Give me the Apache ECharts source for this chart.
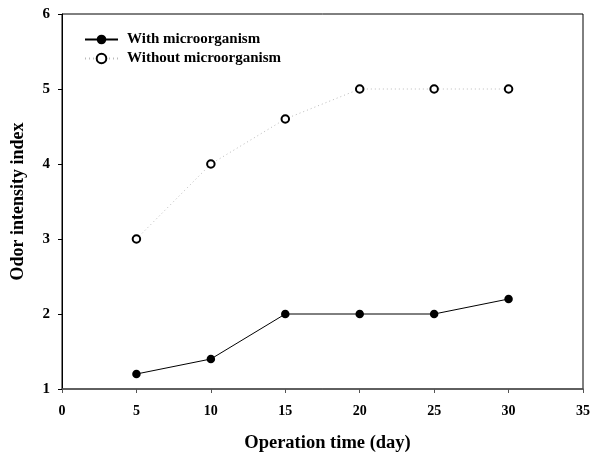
<!DOCTYPE html>
<html>
<head>
<meta charset="utf-8">
<script src="https://cdn.jsdelivr.net/npm/echarts@6/dist/echarts.min.js"></script>
<style>html,body{margin:0;padding:0;background:#fff;}#c{width:590px;height:454px;}</style>
</head>
<body>
<div id="c"></div>
<script>
const days = [5, 10, 15, 20, 25, 30];
const withMicro = [1.2, 1.4, 2.0, 2.0, 2.0, 2.2];
const withoutMicro = [3.0, 4.0, 4.6, 5.0, 5.0, 5.0];
const seriesNames = ['With microorganism', 'Without microorganism'];
const xTitle = 'Operation time (day)';
const yTitle = 'Odor intensity index';

const font = '"Liberation Serif", "Times New Roman", serif';
const chart = echarts.init(document.getElementById('c'));
chart.setOption({
  animation: false,
  backgroundColor: '#fff',
  grid: {left: 62, right: 7, top: 14, bottom: 65, show: true, borderColor: '#000', borderWidth: 1,
         containLabel: false, outerBoundsMode: 'none'},
  legend: {
    left: 79, top: 27, orient: 'vertical', itemGap: 4, itemWidth: 33, itemHeight: 12,
    textStyle: {fontFamily: font, fontWeight: 'bold', fontSize: 15, color: '#000', padding: [0, 0, 0, 4]},
    data: seriesNames
  },
  xAxis: {
    type: 'value', min: 0, max: 35, interval: 5,
    name: xTitle, nameLocation: 'middle', nameGap: 45,
    nameTextStyle: {fontFamily: font, fontWeight: 'bold', fontSize: 18.5, color: '#000', padding: [0, 0, 0, 10]},
    axisLine: {lineStyle: {color: '#555', width: 1.5}},
    axisTick: {show: true, length: 4, lineStyle: {color: '#555'}},
    axisLabel: {fontFamily: font, fontWeight: 'bold', fontSize: 14, color: '#000', margin: 15},
    splitLine: {show: false}
  },
  yAxis: {
    type: 'value', min: 1, max: 6, interval: 1,
    name: yTitle, nameLocation: 'middle', nameGap: 35,
    nameTextStyle: {fontFamily: font, fontWeight: 'bold', fontSize: 18, color: '#000', padding: [0, 0, 0, 0]},
    axisLine: {lineStyle: {color: '#000', width: 1}},
    axisTick: {show: true, length: 4, lineStyle: {color: '#000'}},
    axisLabel: {fontFamily: font, fontWeight: 'bold', fontSize: 15, color: '#000', margin: 12},
    splitLine: {show: false}
  },
  series: [
    {
      name: seriesNames[0], type: 'line',
      data: days.map((d, i) => [d, withMicro[i]]),
      symbol: 'circle', symbolSize: 8.5,
      itemStyle: {color: '#000'},
      lineStyle: {color: '#000', width: 1}
    },
    {
      name: seriesNames[1], type: 'line',
      data: days.map((d, i) => [d, withoutMicro[i]]),
      symbol: 'emptyCircle', symbolSize: 7.5,
      itemStyle: {color: '#000', borderWidth: 1},
      lineStyle: {color: '#bbb', width: 1, type: [1, 3]}
    }
  ]
});
</script>
</body>
</html>
